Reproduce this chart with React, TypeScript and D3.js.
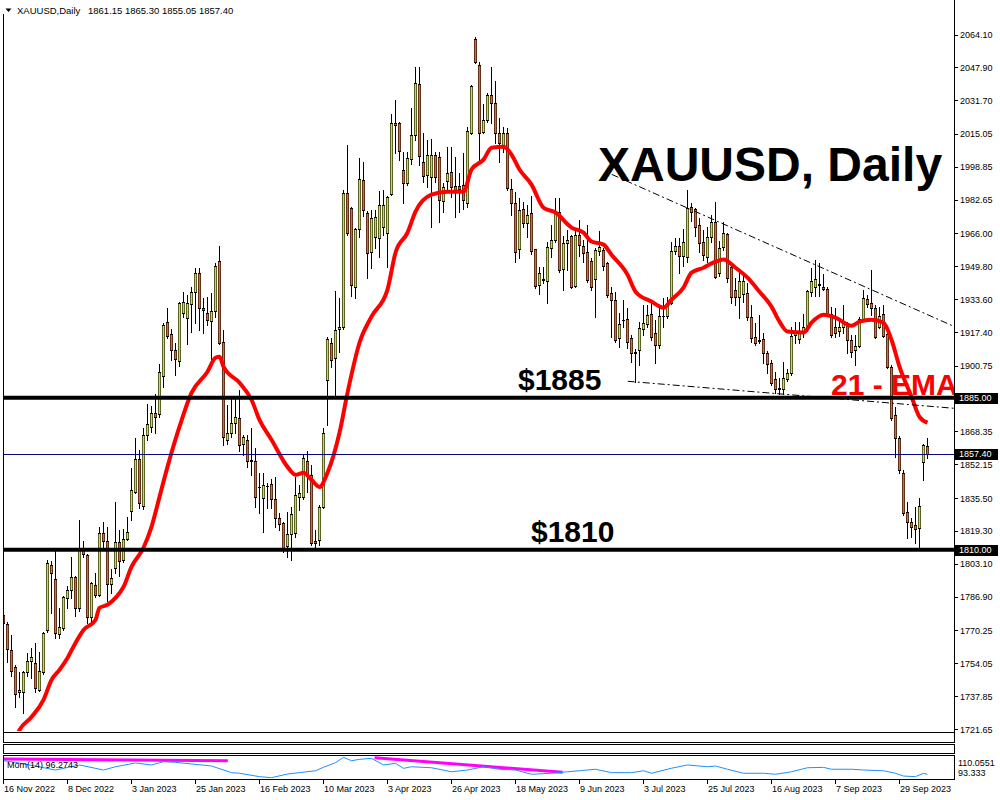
import * as d3 from "d3";

// daily candles, bar 0 = 16 Nov 2022, last bar = 4 Oct 2023
const opens = [
  1777.9, 1773.5, 1760.6, 1752.3, 1740.0, 1739.9, 1749.8, 1755.0, 1754.2, 1740.9,
  1750.0, 1770.5, 1802.6, 1795.7, 1768.5, 1771.5, 1786.4, 1790.0, 1796.5, 1781.4,
  1810.5, 1807.5, 1777.0, 1792.7, 1787.8, 1818.4, 1814.4, 1793.2, 1801.1, 1813.9,
  1805.0, 1815.4, 1829.2, 1838.6, 1854.9, 1831.7, 1866.7, 1870.7, 1877.6, 1877.1,
  1895.8, 1922.5, 1916.6, 1908.7, 1903.2, 1926.9, 1924.5, 1931.4, 1937.3, 1946.7,
  1929.4, 1926.9, 1923.0, 1927.9, 1952.6, 1912.6, 1864.3, 1867.7, 1872.7, 1875.1,
  1862.3, 1864.3, 1854.4, 1853.9, 1841.0, 1835.6, 1841.5, 1842.5, 1835.1, 1825.8,
  1823.3, 1812.0, 1817.9, 1818.4, 1836.1, 1836.1, 1853.9, 1847.0, 1814.4, 1815.0,
  1831.2, 1893.9, 1912.1, 1904.7, 1919.0, 1920.0, 1986.1, 1978.7, 1939.8, 1968.0,
  1992.5, 1976.3, 1957.0, 1964.4, 1963.9, 1969.4, 1966.4, 1985.6, 2020.7, 2020.7,
  1997.5, 1991.1, 2002.9, 2014.3, 2039.9, 2001.0, 1995.0, 1994.0, 2004.9, 2003.9,
  1982.2, 1992.1, 1996.5, 1989.6, 1989.6, 1990.1, 1981.2, 2015.7, 2062.1, 2049.3,
  2016.2, 2021.7, 2034.5, 2030.1, 2015.3, 2009.8, 2015.7, 1988.1, 1981.2, 1958.5,
  1978.2, 1971.3, 1976.3, 1958.5, 1940.7, 1943.2, 1942.7, 1959.0, 1962.9, 1976.8,
  1948.6, 1961.5, 1964.9, 1940.2, 1965.4, 1960.0, 1957.0, 1952.6, 1943.7, 1957.5,
  1958.0, 1951.6, 1936.8, 1933.3, 1914.6, 1923.5, 1924.0, 1914.6, 1907.7, 1908.7,
  1919.0, 1921.5, 1926.4, 1917.1, 1911.2, 1925.5, 1925.5, 1931.9, 1957.5, 1960.0,
  1955.1, 1954.6, 1979.2, 1978.2, 1970.3, 1962.0, 1954.6, 1964.4, 1971.8, 1946.7,
  1959.5, 1965.9, 1949.6, 1938.3, 1934.8, 1936.3, 1936.8, 1924.9, 1915.1, 1913.6,
  1914.1, 1907.2, 1902.3, 1894.4, 1889.9, 1889.4, 1894.4, 1897.3, 1916.1, 1914.1,
  1917.6, 1920.0, 1937.3, 1939.8, 1940.7, 1939.8, 1938.8, 1926.4, 1920.0, 1918.0,
  1920.0, 1922.0, 1913.6, 1908.7, 1910.7, 1924.0, 1933.8, 1931.9, 1929.4, 1920.0,
  1926.4, 1916.6, 1900.3, 1876.6, 1865.2, 1848.0, 1828.7, 1823.8, 1822.3, 1820.8,
  1853.4, 1861.15,
];
const highs = [
  1785.3, 1774.5, 1768.0, 1753.0, 1749.8, 1750.3, 1759.2, 1761.6, 1764.1, 1759.7,
  1769.5, 1805.1, 1804.6, 1810.0, 1781.4, 1787.0, 1792.2, 1806.5, 1797.0, 1824.8,
  1814.4, 1808.0, 1794.0, 1798.6, 1821.3, 1823.8, 1821.3, 1800.6, 1833.7, 1819.9,
  1820.4, 1826.3, 1850.5, 1865.2, 1859.3, 1870.2, 1882.0, 1881.0, 1887.0, 1901.8,
  1922.0, 1929.4, 1919.0, 1912.1, 1932.4, 1937.3, 1935.8, 1939.8, 1949.1, 1949.1,
  1934.3, 1934.8, 1936.8, 1951.6, 1960.0, 1918.5, 1881.5, 1884.5, 1885.0, 1888.9,
  1866.7, 1866.7, 1870.2, 1860.3, 1848.0, 1848.0, 1843.0, 1845.0, 1846.0, 1828.0,
  1823.8, 1828.7, 1831.2, 1846.0, 1842.0, 1856.9, 1858.8, 1851.9, 1819.9, 1832.0,
  1870.2, 1915.1, 1914.6, 1937.8, 1934.3, 1987.6, 2009.8, 1979.0, 1968.9, 2003.4,
  2001.4, 1977.0, 1977.8, 1977.8, 1987.1, 1987.6, 1984.5, 2025.1, 2032.0, 2021.0,
  2006.4, 2006.4, 2028.1, 2048.3, 2048.3, 2015.3, 2012.3, 2012.8, 2006.4, 2006.0,
  1991.1, 2008.8, 2008.8, 2003.9, 1996.0, 2005.9, 2018.7, 2039.4, 2063.1, 2050.3,
  2029.6, 2035.5, 2048.3, 2041.4, 2022.7, 2018.7, 2018.2, 1993.0, 1986.6, 1983.7,
  1981.7, 1980.2, 1984.7, 1958.5, 1949.6, 1949.6, 1962.0, 1970.3, 1983.7, 1983.7,
  1964.5, 1967.9, 1965.4, 1968.9, 1972.8, 1963.0, 1970.3, 1954.1, 1959.0, 1967.4,
  1959.0, 1952.1, 1939.8, 1937.3, 1926.9, 1933.3, 1929.4, 1916.1, 1909.0, 1922.5,
  1930.9, 1930.9, 1931.9, 1923.5, 1929.9, 1934.0, 1934.8, 1962.0, 1963.9, 1964.0,
  1968.0, 1987.6, 1981.2, 1978.7, 1973.8, 1967.9, 1969.0, 1975.0, 1981.7, 1962.5,
  1971.8, 1966.4, 1950.0, 1944.2, 1947.2, 1946.0, 1941.7, 1930.9, 1922.0, 1925.9,
  1917.1, 1908.0, 1903.7, 1897.8, 1894.9, 1902.8, 1899.0, 1920.0, 1922.5, 1922.5,
  1926.5, 1938.3, 1949.1, 1953.1, 1951.6, 1946.2, 1939.5, 1929.9, 1929.4, 1922.5,
  1930.9, 1922.5, 1916.1, 1916.1, 1925.0, 1938.3, 1935.8, 1948.1, 1930.9, 1929.9,
  1930.9, 1918.5, 1901.3, 1880.5, 1866.0, 1849.5, 1833.7, 1825.8, 1831.2, 1835.6,
  1862.3, 1865.3,
];
const lows = [
  1770.5, 1754.7, 1747.8, 1732.5, 1737.5, 1729.5, 1748.0, 1747.0, 1739.9, 1740.4,
  1749.0, 1769.5, 1778.9, 1766.5, 1766.5, 1770.5, 1781.4, 1786.4, 1777.4, 1780.0,
  1806.5, 1774.0, 1774.5, 1786.8, 1787.0, 1811.5, 1784.8, 1788.8, 1798.6, 1797.0,
  1804.0, 1815.0, 1824.8, 1838.0, 1830.7, 1830.0, 1864.3, 1868.2, 1867.7, 1875.6,
  1890.4, 1914.6, 1903.8, 1896.3, 1900.8, 1925.0, 1911.6, 1917.6, 1922.0, 1918.5,
  1917.1, 1921.0, 1902.3, 1925.0, 1911.6, 1861.8, 1862.3, 1865.7, 1867.7, 1858.8,
  1856.9, 1850.9, 1847.0, 1831.2, 1828.2, 1818.9, 1830.7, 1830.7, 1821.3, 1819.9,
  1809.0, 1806.5, 1805.1, 1816.4, 1829.7, 1835.0, 1838.6, 1812.4, 1811.5, 1812.4,
  1830.7, 1871.7, 1900.3, 1886.5, 1907.7, 1919.0, 1965.4, 1935.3, 1934.3, 1964.4,
  1974.8, 1944.2, 1949.1, 1959.0, 1954.6, 1965.4, 1949.6, 1985.0, 2005.9, 2002.4,
  1981.2, 1990.0, 2000.0, 2012.3, 1999.9, 1991.6, 1989.1, 1969.4, 1991.6, 1971.8,
  1976.8, 1987.1, 1984.2, 1974.3, 1976.8, 1978.2, 1979.2, 2015.0, 2050.0, 2000.9,
  2015.7, 2021.0, 2020.7, 2010.8, 2001.0, 2006.4, 1987.6, 1975.3, 1952.1, 1954.1,
  1969.4, 1964.4, 1956.0, 1939.3, 1936.3, 1941.7, 1931.9, 1954.6, 1962.0, 1947.2,
  1938.3, 1948.1, 1939.0, 1939.8, 1955.1, 1952.1, 1942.2, 1938.3, 1925.0, 1955.6,
  1948.1, 1934.8, 1915.1, 1912.6, 1910.2, 1920.0, 1909.7, 1902.8, 1892.9, 1901.3,
  1916.1, 1920.0, 1913.6, 1902.3, 1909.7, 1920.0, 1924.5, 1931.0, 1956.0, 1946.7,
  1950.0, 1952.0, 1972.0, 1964.9, 1957.0, 1953.1, 1952.0, 1962.0, 1944.2, 1945.0,
  1958.0, 1942.0, 1931.9, 1930.9, 1924.5, 1932.0, 1923.5, 1912.6, 1911.0, 1912.0,
  1902.3, 1897.3, 1891.4, 1887.5, 1887.0, 1887.0, 1893.0, 1896.0, 1912.0, 1912.1,
  1915.0, 1918.0, 1935.0, 1935.0, 1935.0, 1938.0, 1925.5, 1915.1, 1915.1, 1915.6,
  1917.1, 1907.2, 1905.3, 1901.3, 1910.0, 1923.5, 1929.9, 1925.9, 1914.6, 1919.5,
  1915.1, 1899.8, 1874.1, 1855.9, 1848.0, 1827.2, 1815.9, 1816.4, 1813.4, 1811.5,
  1844.5, 1855.05,
];
const closes = [
  1773.9, 1761.1, 1750.3, 1739.0, 1741.0, 1749.8, 1755.2, 1757.0, 1741.9, 1750.3,
  1769.0, 1803.6, 1798.6, 1769.0, 1772.0, 1786.8, 1790.2, 1796.7, 1781.4, 1810.5,
  1808.0, 1776.9, 1793.7, 1787.8, 1818.4, 1814.4, 1793.2, 1796.2, 1813.9, 1804.6,
  1815.4, 1818.9, 1839.6, 1854.9, 1833.2, 1866.7, 1872.2, 1877.6, 1875.6, 1897.8,
  1921.0, 1915.6, 1908.7, 1904.2, 1931.9, 1932.4, 1931.9, 1937.3, 1946.7, 1929.4,
  1928.4, 1923.5, 1927.9, 1950.1, 1912.1, 1865.7, 1867.7, 1872.7, 1875.6, 1861.8,
  1865.7, 1853.9, 1853.9, 1836.1, 1841.0, 1842.0, 1841.5, 1835.1, 1825.8, 1822.8,
  1811.0, 1817.9, 1827.7, 1837.1, 1838.1, 1855.4, 1846.5, 1813.4, 1813.4, 1831.2,
  1867.7, 1914.1, 1903.7, 1918.5, 1920.0, 1986.1, 1966.4, 1940.7, 1968.4, 1993.0,
  1977.8, 1956.5, 1973.8, 1974.3, 1980.2, 1980.2, 1984.2, 2020.7, 2019.7, 2006.9,
  1991.1, 2003.4, 2014.3, 2040.4, 2004.4, 1994.5, 2004.9, 2004.9, 1994.0, 1982.7,
  1989.1, 1996.0, 1989.1, 1987.6, 1988.1, 1982.7, 2016.7, 2038.9, 2050.3, 2015.7,
  2021.7, 2034.5, 2030.1, 2015.3, 2010.8, 2015.7, 1988.6, 1981.2, 1957.0, 1977.8,
  1971.3, 1975.3, 1957.5, 1940.2, 1946.7, 1943.7, 1959.5, 1962.9, 1976.8, 1948.1,
  1961.5, 1963.0, 1939.8, 1965.4, 1960.5, 1956.5, 1943.2, 1939.8, 1958.0, 1959.5,
  1950.1, 1935.8, 1933.3, 1913.6, 1921.5, 1923.5, 1912.6, 1907.2, 1907.2, 1919.5,
  1922.0, 1925.9, 1915.1, 1911.2, 1925.5, 1925.5, 1931.9, 1957.5, 1960.0, 1955.1,
  1962.0, 1978.7, 1976.8, 1969.4, 1961.5, 1955.6, 1964.4, 1971.8, 1944.7, 1959.0,
  1966.4, 1944.2, 1934.8, 1934.8, 1942.7, 1942.7, 1924.9, 1914.6, 1912.1, 1913.1,
  1907.2, 1901.8, 1892.4, 1889.4, 1889.4, 1894.9, 1897.3, 1915.6, 1917.1, 1917.1,
  1920.0, 1937.8, 1942.7, 1943.7, 1941.2, 1938.8, 1926.4, 1916.1, 1917.1, 1920.0,
  1922.0, 1913.6, 1907.7, 1910.7, 1924.0, 1934.3, 1931.4, 1929.4, 1915.1, 1925.5,
  1915.6, 1900.3, 1875.1, 1865.2, 1849.5, 1828.2, 1823.8, 1821.3, 1820.4, 1831.7,
  1861.8, 1857.4,
];

// 21 EMA (bar index, price)
const emaBars = [
  3, 4, 7, 10, 12, 14, 16, 18, 20, 23, 24, 26, 28, 30, 32, 35, 37, 39, 41, 44,
  47, 51, 53, 54, 55, 59, 62, 64, 67, 71, 73, 75, 77, 79, 81, 84, 86, 89, 92, 96,
  98, 101, 103, 107, 111, 115, 117, 120, 122, 125, 127, 129, 132, 135, 138, 142, 145, 147, 150, 152,
  156, 158, 162, 165, 167, 170, 172, 175, 178, 180, 183, 186, 189, 192, 194, 196, 200, 202, 205, 208,
  212, 214, 217, 220, 222, 224, 227, 229, 231,
];
const emaValues = [
  1717.0, 1721.2, 1727.6, 1736.0, 1745.8, 1750.8, 1756.7, 1764.1, 1770.5, 1775.4,
  1781.4, 1782.9, 1786.3, 1791.7, 1801.6, 1811.0, 1821.3, 1836.1, 1850.9, 1870.7,
  1887.4, 1897.8, 1904.7, 1905.2, 1900.3, 1892.4, 1884.0, 1874.1, 1864.3, 1850.9,
  1847.0, 1848.0, 1844.5, 1841.0, 1848.0, 1867.7, 1887.4, 1912.1, 1925.0, 1938.3,
  1956.5, 1966.4, 1976.8, 1985.1, 1986.6, 1986.6, 1997.5, 2002.4, 2008.3, 2008.8,
  2004.9, 1997.5, 1990.1, 1978.7, 1976.3, 1968.9, 1966.4, 1962.0, 1960.5, 1955.5,
  1945.7, 1937.3, 1932.4, 1929.4, 1933.3, 1939.3, 1946.7, 1949.1, 1952.1, 1953.1,
  1949.1, 1944.2, 1937.3, 1929.9, 1922.5, 1917.6, 1917.1, 1922.0, 1925.9, 1924.5,
  1920.5, 1922.5, 1923.5, 1922.0, 1913.6, 1900.3, 1885.5, 1875.6, 1872.7,
];

// Momentum(14)
const momBars = [
  0, 3, 13, 19, 25, 28, 33, 37, 40, 43, 47, 52, 57, 59, 64, 67, 71, 74, 78, 80,
  83, 85, 87, 89, 92, 95, 98, 100, 102, 107, 112, 116, 120, 124, 128, 132, 137, 141, 144, 148,
  152, 157, 160, 162, 167, 171, 176, 178, 181, 185, 190, 193, 197, 201, 205, 207, 212, 215, 220, 223,
  225, 228, 230, 231,
];
const momValues = [
  107.1, 105.8, 99.7, 103.7, 99.7, 102.3, 105.3, 103.7, 106.3, 105.8,
  104.5, 102.9, 97.6, 97.1, 94.4, 93.6, 96.5, 97.6, 99.1, 101.9,
  105.5, 109.8, 107.1, 108.2, 109.0, 103.7, 105.0, 101.0, 102.3, 101.5,
  98.3, 99.7, 102.3, 100.3, 99.7, 96.3, 97.1, 98.3, 99.1, 100.3,
  97.6, 97.6, 99.1, 97.1, 101.1, 103.7, 102.3, 102.9, 100.3, 97.1,
  97.1, 96.3, 98.3, 101.5, 101.8, 100.3, 100.3, 99.7, 99.1, 97.1,
  94.9, 94.4, 97.1, 96.27,
];

const priceTicks = [
  2064.1, 2047.9, 2031.7, 2015.05, 1998.85, 1982.65, 1966.0, 1949.8, 1933.6, 1917.4,
  1900.75, 1868.35, 1852.15, 1835.5, 1819.3, 1803.1, 1786.9, 1770.25, 1754.05, 1737.85, 1721.65,
];
const dateLabels = [
  "16 Nov 2022", "8 Dec 2022", "3 Jan 2023", "25 Jan 2023", "16 Feb 2023", "10 Mar 2023",
  "3 Apr 2023", "26 Apr 2023", "18 May 2023", "9 Jun 2023", "3 Jul 2023", "25 Jul 2023",
  "16 Aug 2023", "7 Sep 2023", "29 Sep 2023",
];
const levels = [1885, 1810];
const levelLabels = ["$1885", "$1810"];
const lastPrice = 1857.4;
// trend lines: [bar0, price0, bar1, price1]
const trendLines = [
  [152.2, 1995.1, 237.7, 1920.2],
  [156.2, 1893.1, 237.7, 1879.8],
];
// magenta lines in the momentum window
const momLines = [
  [0, 108.5, 56.2, 107.1],
  [92.9, 109.5, 139.9, 97.9],
];

const FONT = "'Liberation Sans', Arial, sans-serif";
const BULL = "#ccdc48";
const BEAR = "#dc6a34";

export default function App() {
  const x = d3.scaleLinear().domain([0, 231]).range([3, 927]);
  const y = d3.scaleLinear().domain([1721.65, 2064.1]).range([729, 34.5]);
  const ym = d3.scaleLinear().domain([93.333, 110.0551]).range([778, 757]);
  const snap = (v: number) => Math.round(v) + 0.5;

  const emaPath = d3
    .line<number>()
    .x((d, i) => x(emaBars[i]) + 0.5)
    .y((d) => y(d))
    .curve(d3.curveMonotoneX)(emaValues);
  const momPath = d3
    .line<number>()
    .x((d, i) => x(momBars[i]) + 0.5)
    .y((d) => ym(d))(momValues);

  // each candle: 1px wick, 3px body with black border and coloured core
  const candles = closes.map((c, i) => {
    const o = opens[i];
    const px = Math.round(x(i));
    const hi = Math.max(highs[i], o, c);
    const lo = Math.min(lows[i], o, c);
    const top = Math.round(y(Math.max(o, c)));
    const bot = Math.round(y(Math.min(o, c)));
    const wickTop = Math.round(y(hi));
    const wickBot = Math.round(y(lo));
    return (
      <g key={i}>
        <rect x={px} y={wickTop} width={1} height={wickBot - wickTop + 1} fill="#000" shapeRendering="crispEdges" />
        <rect x={px - 1} y={top} width={3} height={bot - top + 1} fill="#000" shapeRendering="crispEdges" />
        {bot - top >= 2 && (
          <rect x={px - 0.45} y={top + 1} width={1.9} height={bot - top - 1} fill={c >= o ? BULL : BEAR} />
        )}
      </g>
    );
  });

  const boxLabel = (v: number, key: string) => {
    const cy = y(v);
    return (
      <g key={key}>
        <rect x={955} y={Math.round(cy) - 5} width={43} height={11} fill="#000" />
        <text x={959} y={cy + 3.5} fontSize={9} fill="#fff">
          {v.toFixed(2)}
        </text>
      </g>
    );
  };

  return (
    <svg
      width={1000}
      height={800}
      style={{ position: "absolute", left: 0, top: 0, background: "#fff" }}
      fontFamily={FONT}
    >
      <defs>
        <clipPath id="mainClip">
          <rect x={3} y={0} width={951} height={731} />
        </clipPath>
        <clipPath id="momClip">
          <rect x={4} y={756} width={950} height={23} />
        </clipPath>
      </defs>
      <rect width={1000} height={800} fill="#fff" />

      {/* header */}
      <polygon points="5.5,8.5 11.5,8.5 8.5,12" fill="#000" />
      <text x={17} y={13.5} fontSize={9.5} fill="#000">
        XAUUSD,Daily
      </text>
      <text x={88} y={13.5} fontSize={9.5} fill="#000">
        {`${opens[231].toFixed(2)} ${highs[231].toFixed(2)} ${lows[231].toFixed(2)} ${closes[231].toFixed(2)}`}
      </text>

      <g clipPath="url(#mainClip)">
        {candles}
        <path d={emaPath ?? ""} fill="none" stroke="#ff0000" strokeWidth={4} strokeLinejoin="round" />
        {trendLines.map((t, i) => (
          <line
            key={i}
            x1={x(t[0])}
            y1={y(t[1])}
            x2={x(t[2])}
            y2={y(t[3])}
            stroke="#000"
            strokeWidth={1}
            strokeDasharray="7,3,2,3"
          />
        ))}
        <line x1={3} x2={954} y1={snap(y(lastPrice))} y2={snap(y(lastPrice))} stroke="#0a0a80" strokeWidth={1} />
        {levels.map((lv) => (
          <line key={lv} x1={3} x2={954} y1={y(lv)} y2={y(lv)} stroke="#000" strokeWidth={4} />
        ))}
        <text x={598} y={181} fontSize={48} fontWeight="bold" fill="#000">
          XAUUSD, Daily
        </text>
        <text x={518} y={390} fontSize={30} fontWeight="bold" fill="#000">
          {levelLabels[0]}
        </text>
        <text x={531} y={542} fontSize={30} fontWeight="bold" fill="#000">
          {levelLabels[1]}
        </text>
        <text x={831} y={395} fontSize={30} fontWeight="bold" fill="#ff0000">
          21 - EMA
        </text>
      </g>

      {/* frames */}
      <line x1={3.5} x2={3.5} y1={14} y2={732} stroke="#000" />
      <line x1={954.5} x2={954.5} y1={0} y2={732} stroke="#000" />
      <line x1={3} x2={955} y1={732.5} y2={732.5} stroke="#000" />
      <rect x={3.5} y={732.5} width={951} height={10} fill="none" stroke="#000" />
      <rect x={3.5} y={744.5} width={951} height={9} fill="none" stroke="#000" />
      <rect x={3.5} y={755.5} width={951} height={24} fill="none" stroke="#000" />

      {/* right price axis */}
      {priceTicks.map((v) => (
        <g key={v}>
          <line x1={954} x2={958} y1={snap(y(v))} y2={snap(y(v))} stroke="#000" />
          <text x={960} y={y(v) + 3.5} fontSize={9} fill="#000">
            {v.toFixed(2)}
          </text>
        </g>
      ))}
      {levels.map((lv) => boxLabel(lv, `lv${lv}`))}
      {boxLabel(lastPrice, "last")}

      {/* momentum window */}
      <g clipPath="url(#momClip)">
        {momLines.map((m, i) => (
          <line key={i} x1={x(m[0])} y1={ym(m[1])} x2={x(m[2])} y2={ym(m[3])} stroke="#ff00ff" strokeWidth={3} />
        ))}
        <path d={momPath ?? ""} fill="none" stroke="#1e90ff" strokeWidth={1} />
      </g>
      <text x={7} y={768} fontSize={9} fill="#000">
        Mom(14) 96.2743
      </text>
      <text x={958} y={766} fontSize={9} fill="#000">
        110.0551
      </text>
      <text x={958} y={776} fontSize={9} fill="#000">
        93.333
      </text>

      {/* date axis */}
      {dateLabels.map((d, i) => (
        <g key={d}>
          <line x1={x(i * 16) + 0.5} x2={x(i * 16) + 0.5} y1={780} y2={784} stroke="#000" />
          <text x={x(i * 16) + 1} y={792} fontSize={9} fill="#000">
            {d}
          </text>
        </g>
      ))}
    </svg>
  );
}
